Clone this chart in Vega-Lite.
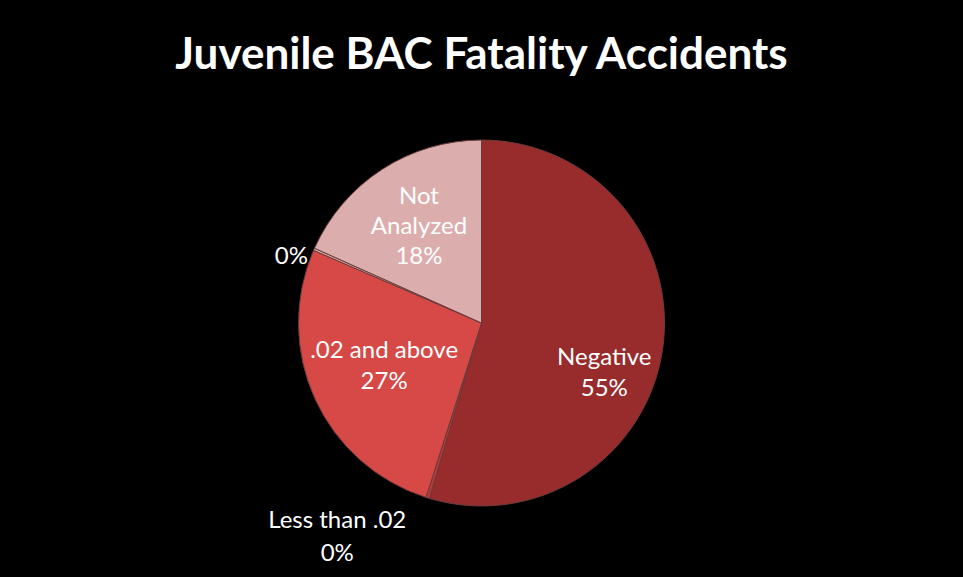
{
  "$schema": "https://vega.github.io/schema/vega-lite/v6.json",
  "autosize": {"type": "none"},
  "width": 963,
  "height": 508,
  "padding": {"top": 69, "left": 0, "right": 0, "bottom": 0},
  "background": "#000000",
  "config": {"view": {"stroke": null}, "text": {"font": "Lato", "color": "#ffffff"}},
  "title": {
    "text": "Juvenile BAC Fatality Accidents",
    "color": "#ffffff",
    "font": "Lato",
    "fontWeight": "bold",
    "fontSize": 44,
    "anchor": "middle",
    "baseline": "alphabetic",
    "offset": 2,
    "dy": 46
  },
  "data": {
    "values": [
      {"order": 1, "category": "Negative", "value": 54.6},
      {"order": 2, "category": "Less than .02", "value": 0.3},
      {"order": 3, "category": ".02 and above", "value": 26.6},
      {"order": 4, "category": "", "value": 0.2},
      {"order": 5, "category": "Not Analyzed", "value": 18.3}
    ]
  },
  "transform": [
    {"calculate": "format(datum.value / 100, '.0%')", "as": "pct"},
    {"calculate": "datum.category == 'Negative' ? datum.category + '\\n' + datum.pct : ''", "as": "negLabel"},
    {"calculate": "datum.category == '.02 and above' ? datum.category + '\\n' + datum.pct : ''", "as": "aboveLabel"},
    {"calculate": "datum.category == 'Not Analyzed' ? 'Not\\nAnalyzed\\n' + datum.pct : ''", "as": "notLabel"},
    {"calculate": "datum.category == '' ? datum.pct : ''", "as": "outerLeft"},
    {"calculate": "datum.category == 'Less than .02' ? datum.category + '\\n' + datum.pct : ''", "as": "outerBottom"}
  ],
  "encoding": {
    "theta": {"field": "value", "type": "quantitative", "stack": true},
    "order": {"field": "order", "type": "quantitative"}
  },
  "layer": [
    {
      "mark": {"type": "arc", "outerRadius": 183, "stroke": "#6a3a3a", "strokeWidth": 1},
      "encoding": {
        "color": {
          "field": "category",
          "type": "nominal",
          "legend": null,
          "scale": {
            "domain": ["Negative", "Less than .02", ".02 and above", "", "Not Analyzed"],
            "range": ["#982c2c", "#b53a38", "#d64946", "#dcaeae", "#dbadad"]
          }
        }
      }
    },
    {
      "mark": {"type": "text", "radius": 118, "fontSize": 24, "lineBreak": "\n", "lineHeight": 31, "align": "center", "baseline": "middle", "dx": 6, "dy": 18},
      "encoding": {"text": {"field": "negLabel"}}
    },
    {
      "mark": {"type": "text", "radius": 107, "fontSize": 24, "lineBreak": "\n", "lineHeight": 31, "align": "center", "baseline": "middle", "dy": -16},
      "encoding": {"text": {"field": "aboveLabel"}}
    },
    {
      "mark": {"type": "text", "radius": 115, "fontSize": 24, "lineBreak": "\n", "lineHeight": 30, "align": "center", "baseline": "middle", "dy": -29},
      "encoding": {"text": {"field": "notLabel"}}
    },
    {
      "mark": {"type": "text", "radius": 200, "fontSize": 24, "align": "center", "baseline": "middle", "dx": -7, "dy": 15},
      "encoding": {"text": {"field": "outerLeft"}}
    },
    {
      "mark": {"type": "text", "radius": 205, "fontSize": 24, "lineBreak": "\n", "lineHeight": 33, "align": "center", "baseline": "middle", "dx": -84, "dy": 2},
      "encoding": {"text": {"field": "outerBottom"}}
    }
  ]
}
